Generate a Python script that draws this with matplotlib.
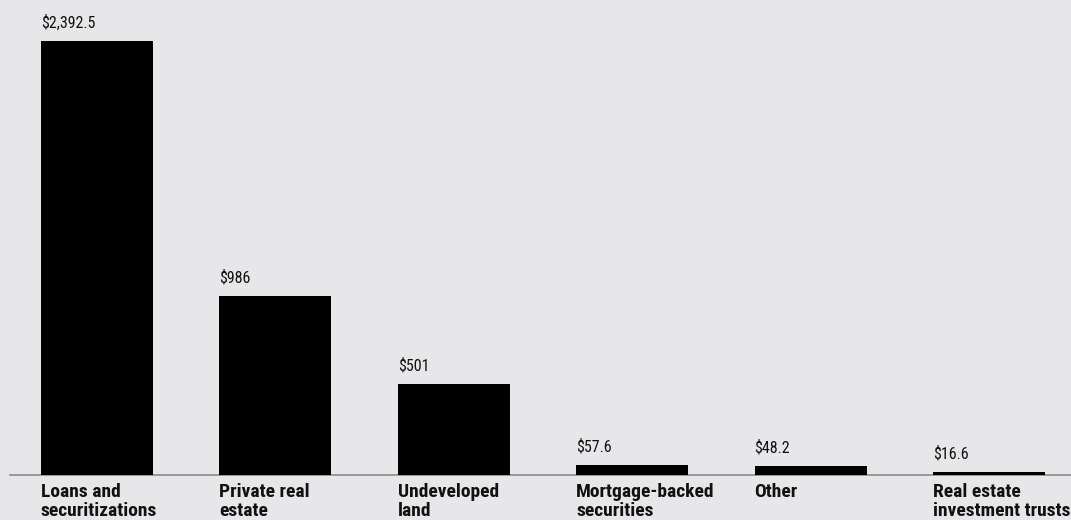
import matplotlib
matplotlib.use("Agg")
import matplotlib.pyplot as plt

categories = ["Loans and\nsecuritizations", "Private real\nestate", "Undeveloped\nland",
              "Mortgage-backed\nsecurities", "Other", "Real estate\ninvestment trusts"]
values = [2392.5, 986, 501, 57.6, 48.2, 16.6]
value_labels = ["$2,392.5", "$986", "$501", "$57.6", "$48.2", "$16.6"]

bg = "#e7e7ea"
W, H = 1071, 520
fig = plt.figure(figsize=(W / 100, H / 100), dpi=100, facecolor=bg)
ax = fig.add_axes([0, 45 / H, 1, (475 - 41) / H])
ax.set_facecolor(bg)
ax.patch.set_alpha(0)

x = list(range(len(categories)))
bw = 112 / 178.4
left_edges = [i - bw / 2 for i in x]
ax.bar(left_edges, values, width=bw, align="edge", color="black", zorder=3)
ax.set_xlim(-97 / 178.4, (W - 97) / 178.4)
ax.set_ylim(0, 2392.5)
ax.axhline(0, xmin=10 / W, xmax=1, color="#8a8a8a", lw=1.2, zorder=2, clip_on=False)

fam = ["Roboto Condensed", "DejaVu Sans"]
for xi, v, lab, cat in zip(left_edges, values, value_labels, categories):
    ax.annotate(lab, (xi, v), xytext=(0, 7.5), textcoords="offset points",
                ha="left", va="bottom", fontsize=11.5, family=fam, color="#111111",
                annotation_clip=False)
    ax.annotate(cat, (xi, 0), xytext=(0, -5.5), textcoords="offset points",
                ha="left", va="top", fontsize=14, fontweight="bold", family=fam,
                color="#111111", linespacing=1.12, annotation_clip=False)

for s in ax.spines.values():
    s.set_visible(False)
ax.set_xticks([])
ax.set_yticks([])
fig.savefig("out.png", dpi=100, facecolor=bg)
